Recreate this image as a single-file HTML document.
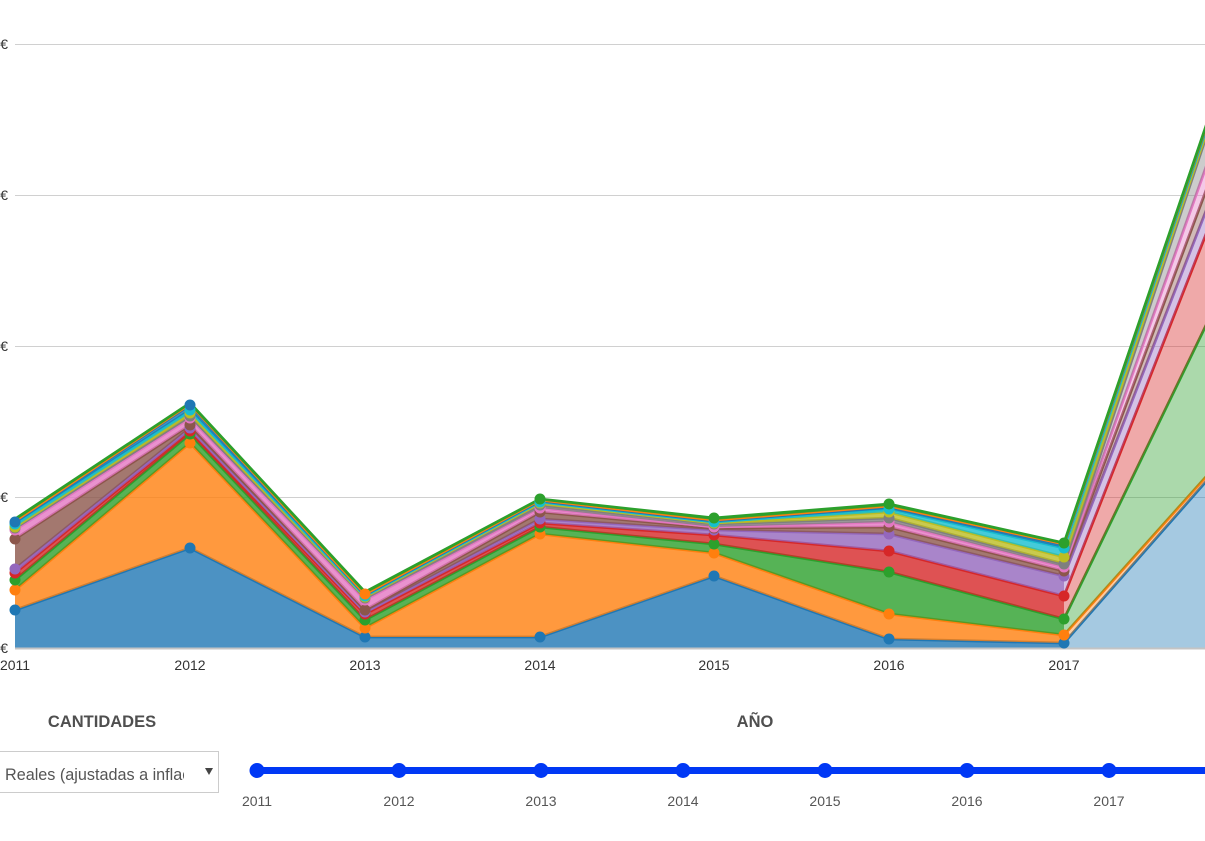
<!DOCTYPE html>
<html>
<head>
<meta charset="utf-8">
<style>
html,body{margin:0;padding:0;background:#fff;width:1205px;height:841px;overflow:hidden;}
svg{display:block;position:absolute;left:0;top:0;}
text{font-family:"Liberation Sans",sans-serif;}
</style>
</head>
<body>
<svg width="1205" height="841" viewBox="0 0 1205 841" xmlns="http://www.w3.org/2000/svg">
<!-- gridlines -->
<g stroke="#d0d0d0" stroke-width="1">
<line x1="15" y1="44.5" x2="1205" y2="44.5"/>
<line x1="15" y1="195.5" x2="1205" y2="195.5"/>
<line x1="15" y1="346.5" x2="1205" y2="346.5"/>
<line x1="15" y1="497.5" x2="1205" y2="497.5"/>
</g>
<g font-size="14" fill="#333" text-anchor="end">
<text x="8" y="49">€</text>
<text x="8" y="200">€</text>
<text x="8" y="351">€</text>
<text x="8" y="502">€</text>
<text x="8" y="653">€</text>
</g>

<!-- series fills and lines -->
<g stroke-linejoin="round">
<!-- s0 blue -->
<polygon fill="#1f77b4" fill-opacity="0.8" points="15,610 190,548 365,637 540,637 714,576 889,639 1064,643 1064,648 889,648 714,648 540,648 365,648 190,648 15,648"/>
<polygon fill="#1f77b4" fill-opacity="0.4" points="1064,643 1239,444 1239,648 1064,648"/>
<polyline fill="none" stroke="#1f77b4" stroke-width="2.8" points="15,610 190,548 365,637 540,637 714,576 889,639 1064,643 1239,444"/>
<!-- s1 orange -->
<polygon fill="#ff7f0e" fill-opacity="0.8" points="15,590 190,443 365,628 540,534 714,553 889,614 1064,635 1064,643 889,639 714,576 540,637 365,637 190,548 15,610"/>
<polygon fill="#ff7f0e" fill-opacity="0.4" points="1064,635 1239,440 1239,444 1064,643"/>
<polyline fill="none" stroke="#ff7f0e" stroke-width="2.8" points="15,590 190,443 365,628 540,534 714,553 889,614 1064,635 1239,440"/>
<!-- s2 green -->
<polygon fill="#2ca02c" fill-opacity="0.8" points="15,580 190,434 365,620 540,527 714,544 889,572 1064,619 1064,635 889,614 714,553 540,534 365,628 190,443 15,590"/>
<polygon fill="#2ca02c" fill-opacity="0.4" points="1064,619 1239,257 1239,440 1064,635"/>
<polyline fill="none" stroke="#2ca02c" stroke-width="2.8" points="15,580 190,434 365,620 540,527 714,544 889,572 1064,619 1239,257"/>
<!-- s3 red -->
<polygon fill="#d62728" fill-opacity="0.8" points="15,573 190,431 365,614 540,523 714,535 889,551 1064,596 1064,619 889,572 714,544 540,527 365,620 190,434 15,580"/>
<polygon fill="#d62728" fill-opacity="0.4" points="1064,596 1239,150 1239,257 1064,619"/>
<polyline fill="none" stroke="#d62728" stroke-width="2.8" points="15,573 190,431 365,614 540,523 714,535 889,551 1064,596 1239,150"/>
<!-- s4 purple -->
<polygon fill="#9467bd" fill-opacity="0.8" points="15,569 190,428 365,612 540,519 714,530 889,534 1064,576 1064,596 889,551 714,535 540,523 365,614 190,431 15,573"/>
<polygon fill="#9467bd" fill-opacity="0.4" points="1064,576 1239,126 1239,150 1064,596"/>
<polyline fill="none" stroke="#9467bd" stroke-width="2.8" points="15,569 190,428 365,612 540,519 714,530 889,534 1064,576 1239,126"/>
<!-- s5 brown -->
<polygon fill="#8c564b" fill-opacity="0.8" points="15,539 190,425 365,610 540,512 714,528 889,527 1064,571 1064,576 889,534 714,530 540,519 365,612 190,428 15,569"/>
<polygon fill="#8c564b" fill-opacity="0.4" points="1064,571 1239,102 1239,126 1064,576"/>
<polyline fill="none" stroke="#8c564b" stroke-width="2.8" points="15,539 190,425 365,610 540,512 714,528 889,527 1064,571 1239,102"/>
<!-- s6 pink -->
<polygon fill="#e377c2" fill-opacity="0.8" points="15,530 190,418 365,600 540,508 714,527 889,522 1064,567 1064,571 889,527 714,528 540,512 365,610 190,425 15,539"/>
<polygon fill="#e377c2" fill-opacity="0.4" points="1064,567 1239,74 1239,102 1064,571"/>
<polyline fill="none" stroke="#e377c2" stroke-width="2.8" points="15,530 190,418 365,600 540,508 714,527 889,522 1064,567 1239,74"/>
<!-- s7 gray -->
<polygon fill="#7f7f7f" fill-opacity="0.8" points="15,528 190,416 365,598 540,505 714,524 889,518 1064,564 1064,567 889,522 714,527 540,508 365,600 190,418 15,530"/>
<polygon fill="#7f7f7f" fill-opacity="0.4" points="1064,564 1239,38 1239,74 1064,567"/>
<polyline fill="none" stroke="#7f7f7f" stroke-width="2.8" points="15,528 190,416 365,598 540,505 714,524 889,518 1064,564 1239,38"/>
<!-- s8 olive -->
<polygon fill="#bcbd22" fill-opacity="0.8" points="15,527 190,413 365,597 540,503 714,523 889,512 1064,557 1064,564 889,518 714,524 540,505 365,598 190,416 15,528"/>
<polygon fill="#bcbd22" fill-opacity="0.4" points="1064,557 1239,35 1239,38 1064,564"/>
<polyline fill="none" stroke="#bcbd22" stroke-width="2.8" points="15,527 190,413 365,597 540,503 714,523 889,512 1064,557 1239,35"/>
<!-- s9 cyan -->
<polygon fill="#17becf" fill-opacity="0.8" points="15,524 190,410 365,596 540,502 714,522 889,509 1064,548 1064,557 889,512 714,523 540,503 365,597 190,413 15,527"/>
<polygon fill="#17becf" fill-opacity="0.4" points="1064,548 1239,33 1239,35 1064,557"/>
<polyline fill="none" stroke="#17becf" stroke-width="2.8" points="15,524 190,410 365,596 540,502 714,522 889,509 1064,548 1239,33"/>
<!-- s10 blue -->
<polygon fill="#1f77b4" fill-opacity="0.8" points="15,522 190,405 365,595 540,501 714,521 889,507 1064,545 1064,548 889,509 714,522 540,502 365,596 190,410 15,524"/>
<polygon fill="#1f77b4" fill-opacity="0.4" points="1064,545 1239,31 1239,33 1064,548"/>
<polyline fill="none" stroke="#1f77b4" stroke-width="2.8" points="15,522 190,405 365,595 540,501 714,521 889,507 1064,545 1239,31"/>
<!-- s11 orange -->
<polygon fill="#ff7f0e" fill-opacity="0.8" points="15,521 190,404 365,594 540,500 714,520 889,506 1064,544 1064,545 889,507 714,521 540,501 365,595 190,405 15,522"/>
<polygon fill="#ff7f0e" fill-opacity="0.4" points="1064,544 1239,30 1239,31 1064,545"/>
<polyline fill="none" stroke="#ff7f0e" stroke-width="2.8" points="15,521 190,404 365,594 540,500 714,520 889,506 1064,544 1239,30"/>
<!-- s12 green -->
<polygon fill="#2ca02c" fill-opacity="0.8" points="15,519 190,403 365,592 540,499 714,518 889,504 1064,543 1064,544 889,506 714,520 540,500 365,594 190,404 15,521"/>
<polygon fill="#2ca02c" fill-opacity="0.4" points="1064,543 1239,29 1239,30 1064,544"/>
<polyline fill="none" stroke="#2ca02c" stroke-width="2.8" points="15,519 190,403 365,592 540,499 714,518 889,504 1064,543 1239,29"/>
</g>

<!-- baseline -->
<line x1="15" y1="648.5" x2="1205" y2="648.5" stroke="#c4c4c4" stroke-width="2"/>

<!-- dots -->
<g>
<g fill="#1f77b4"><circle cx="15" cy="610" r="5.5"/><circle cx="190" cy="548" r="5.5"/><circle cx="365" cy="637" r="5.5"/><circle cx="540" cy="637" r="5.5"/><circle cx="714" cy="576" r="5.5"/><circle cx="889" cy="639" r="5.5"/><circle cx="1064" cy="643" r="5.5"/></g>
<g fill="#ff7f0e"><circle cx="15" cy="590" r="5.5"/><circle cx="190" cy="443" r="5.5"/><circle cx="365" cy="628" r="5.5"/><circle cx="540" cy="534" r="5.5"/><circle cx="714" cy="553" r="5.5"/><circle cx="889" cy="614" r="5.5"/><circle cx="1064" cy="635" r="5.5"/></g>
<g fill="#2ca02c"><circle cx="15" cy="580" r="5.5"/><circle cx="190" cy="434" r="5.5"/><circle cx="365" cy="620" r="5.5"/><circle cx="540" cy="527" r="5.5"/><circle cx="714" cy="544" r="5.5"/><circle cx="889" cy="572" r="5.5"/><circle cx="1064" cy="619" r="5.5"/></g>
<g fill="#d62728"><circle cx="15" cy="573" r="5.5"/><circle cx="190" cy="431" r="5.5"/><circle cx="365" cy="614" r="5.5"/><circle cx="540" cy="523" r="5.5"/><circle cx="714" cy="535" r="5.5"/><circle cx="889" cy="551" r="5.5"/><circle cx="1064" cy="596" r="5.5"/></g>
<g fill="#9467bd"><circle cx="15" cy="569" r="5.5"/><circle cx="190" cy="428" r="5.5"/><circle cx="365" cy="612" r="5.5"/><circle cx="540" cy="519" r="5.5"/><circle cx="714" cy="530" r="5.5"/><circle cx="889" cy="534" r="5.5"/><circle cx="1064" cy="576" r="5.5"/></g>
<g fill="#8c564b"><circle cx="15" cy="539" r="5.5"/><circle cx="190" cy="425" r="5.5"/><circle cx="365" cy="610" r="5.5"/><circle cx="540" cy="512" r="5.5"/><circle cx="714" cy="528" r="5.5"/><circle cx="889" cy="527" r="5.5"/><circle cx="1064" cy="571" r="5.5"/></g>
<g fill="#e377c2"><circle cx="15" cy="530" r="5.5"/><circle cx="190" cy="418" r="5.5"/><circle cx="365" cy="600" r="5.5"/><circle cx="540" cy="508" r="5.5"/><circle cx="714" cy="527" r="5.5"/><circle cx="889" cy="522" r="5.5"/><circle cx="1064" cy="567" r="5.5"/></g>
<g fill="#7f7f7f"><circle cx="15" cy="528" r="5.5"/><circle cx="190" cy="416" r="5.5"/><circle cx="365" cy="598" r="5.5"/><circle cx="540" cy="505" r="5.5"/><circle cx="714" cy="524" r="5.5"/><circle cx="889" cy="518" r="5.5"/><circle cx="1064" cy="564" r="5.5"/></g>
<g fill="#bcbd22"><circle cx="15" cy="527" r="5.5"/><circle cx="190" cy="413" r="5.5"/><circle cx="365" cy="597" r="5.5"/><circle cx="540" cy="503" r="5.5"/><circle cx="714" cy="523" r="5.5"/><circle cx="889" cy="512" r="5.5"/><circle cx="1064" cy="557" r="5.5"/></g>
<g fill="#17becf"><circle cx="15" cy="524" r="5.5"/><circle cx="190" cy="410" r="5.5"/><circle cx="365" cy="596" r="5.5"/><circle cx="540" cy="502" r="5.5"/><circle cx="714" cy="522" r="5.5"/><circle cx="889" cy="509" r="5.5"/><circle cx="1064" cy="548" r="5.5"/></g>
<g fill="#1f77b4"><circle cx="15" cy="522" r="5.5"/><circle cx="190" cy="405" r="5.5"/></g>
<g fill="#ff7f0e"><circle cx="365" cy="594" r="5.5"/></g>
<g fill="#2ca02c"><circle cx="540" cy="499" r="5.5"/><circle cx="714" cy="518" r="5.5"/><circle cx="889" cy="504" r="5.5"/><circle cx="1064" cy="543" r="5.5"/></g>
</g>

<!-- x labels -->
<g font-size="14" fill="#333" text-anchor="middle">
<text x="15" y="670">2011</text>
<text x="190" y="670">2012</text>
<text x="365" y="670">2013</text>
<text x="540" y="670">2014</text>
<text x="714" y="670">2015</text>
<text x="889" y="670">2016</text>
<text x="1064" y="670">2017</text>
</g>

<!-- controls -->
<g font-weight="bold" font-size="16.5" fill="#4f4f4f" text-anchor="middle">
<text x="102" y="727">CANTIDADES</text>
<text x="755" y="727">AÑO</text>
</g>
<rect x="-1.5" y="751.5" width="220" height="41" fill="#fff" stroke="#cccccc" stroke-width="1"/>
<svg x="0" y="752" width="184" height="40" overflow="hidden">
<text x="5" y="28" font-size="16.2" fill="#555">Reales (ajustadas a inflación)</text>
</svg>
<polygon points="205,768 213,768 209,775" fill="#444"/>

<line x1="257" y1="770.5" x2="1205" y2="770.5" stroke="#0038f5" stroke-width="7"/>
<g fill="#0038f5">
<circle cx="257" cy="770.5" r="7.5"/>
<circle cx="399" cy="770.5" r="7.5"/>
<circle cx="541" cy="770.5" r="7.5"/>
<circle cx="683" cy="770.5" r="7.5"/>
<circle cx="825" cy="770.5" r="7.5"/>
<circle cx="967" cy="770.5" r="7.5"/>
<circle cx="1109" cy="770.5" r="7.5"/>
</g>
<g font-size="14" fill="#555" text-anchor="middle">
<text x="257" y="806">2011</text>
<text x="399" y="806">2012</text>
<text x="541" y="806">2013</text>
<text x="683" y="806">2014</text>
<text x="825" y="806">2015</text>
<text x="967" y="806">2016</text>
<text x="1109" y="806">2017</text>
</g>
</svg>
</body>
</html>
